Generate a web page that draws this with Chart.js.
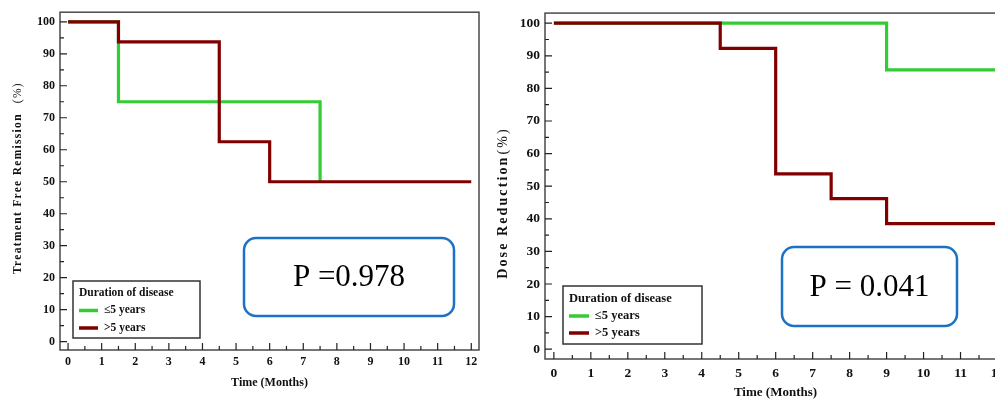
<!DOCTYPE html>
<html lang="en">
<head>
    <meta charset="UTF-8">
    <title>Treatment Free Remission and Dose Reduction by Duration of disease</title>
    <script src="https://cdn.jsdelivr.net/npm/chart.js"></script>
    <style>
        body {
            margin: 0;
            background: #fff;
            width: 995px;
            height: 400px;
            overflow: hidden;
            position: relative;
        }
        #leftChart { position: absolute; left: 0; top: 0; }
        #rightChart { position: absolute; left: 490px; top: 0; }
    </style>
</head>
<body>
    <canvas id="leftChart" width="490" height="400"></canvas>
    <canvas id="rightChart" width="530" height="400"></canvas>

    <script>
        const seriesNames = ['≤5 years', '>5 years'];
        const legendTitle = 'Duration of disease';
        const monthTicks = [0, 1, 2, 3, 4, 5, 6, 7, 8, 9, 10, 11, 12];
        const percentTicks = [0, 10, 20, 30, 40, 50, 60, 70, 80, 90, 100];

        // Treatment free remission (left)
        const remissionShortTime = [0, 1.5, 7.5];
        const remissionShortValue = [100, 75, 50];
        const remissionLongTime = [0, 1.5, 4.5, 6, 12];
        const remissionLongValue = [100, 93.75, 62.5, 50, 50];

        // Dose reduction (right)
        const doseShortTime = [0, 9, 12];
        const doseShortValue = [100, 85.7, 85.7];
        const doseLongTime = [0, 4.5, 6, 7.5, 9, 12];
        const doseLongValue = [100, 92.3, 53.8, 46.2, 38.5, 38.5];

        const GREEN = '#33cc33';
        const MAROON = '#800000';
        const SERIF = '"Liberation Serif", "Times New Roman", serif';

        function toPoints(xs, ys) {
            return xs.map((x, i) => ({ x: x, y: ys[i] }));
        }

        // frame, inward ticks, y title, boxed legend and p-value box
        const decorPlugin = {
            id: 'decor',
            afterDraw(chart, args, o) {
                const ctx = chart.ctx;
                const a = chart.chartArea;
                const xs = chart.scales.x, ys = chart.scales.y;
                ctx.save();

                ctx.strokeStyle = '#4a4a4a';
                ctx.lineWidth = 1.5;
                ctx.strokeRect(a.left, a.top, a.right - a.left, a.bottom - a.top);

                ctx.strokeStyle = '#222';
                ctx.lineWidth = 1.2;
                ctx.beginPath();
                monthTicks.forEach((v, i) => {
                    const px = xs.getPixelForValue(v);
                    ctx.moveTo(px, a.bottom); ctx.lineTo(px, a.bottom - 7);
                    if (i < monthTicks.length - 1) {
                        const mx = xs.getPixelForValue((v + monthTicks[i + 1]) / 2);
                        ctx.moveTo(mx, a.bottom); ctx.lineTo(mx, a.bottom - 4);
                    }
                });
                percentTicks.forEach((v, i) => {
                    const py = ys.getPixelForValue(v);
                    ctx.moveTo(a.left, py); ctx.lineTo(a.left + 7, py);
                    if (i < percentTicks.length - 1) {
                        const my = ys.getPixelForValue((v + percentTicks[i + 1]) / 2);
                        ctx.moveTo(a.left, my); ctx.lineTo(a.left + 4, my);
                    }
                });
                ctx.stroke();

                // rotated y title, bold part + plain "(%)", letter spaced
                const t = o.yTitle;
                ctx.save();
                ctx.translate(t.x, t.y);
                ctx.rotate(-Math.PI / 2);
                ctx.fillStyle = '#111';
                ctx.textBaseline = 'middle';
                ctx.letterSpacing = t.spacing + 'px';
                const boldFont = 'bold ' + t.size + 'px ' + SERIF;
                const plainFont = t.size + 'px ' + SERIF;
                ctx.font = boldFont;
                const w1 = ctx.measureText(t.text).width;
                ctx.font = plainFont;
                const w2 = ctx.measureText(t.unit).width;
                const total = w1 + t.gap + w2;
                ctx.font = boldFont;
                ctx.textAlign = 'left';
                ctx.fillText(t.text, -total / 2, 0);
                ctx.font = plainFont;
                ctx.fillText(t.unit, -total / 2 + w1 + t.gap, 0);
                ctx.restore();

                // legend box
                const L = o.legend;
                ctx.fillStyle = '#fff';
                ctx.fillRect(L.x, L.y, L.w, L.h);
                ctx.strokeStyle = '#333';
                ctx.lineWidth = 1.5;
                ctx.strokeRect(L.x, L.y, L.w, L.h);
                ctx.fillStyle = '#111';
                ctx.textAlign = 'left';
                ctx.textBaseline = 'middle';
                ctx.font = 'bold ' + L.size + 'px ' + SERIF;
                ctx.fillText(legendTitle, L.x + 6, L.y + L.rowTop);
                chart.data.datasets.forEach((ds, i) => {
                    const ry = L.y + L.rowTop + L.rowGap * (i + 1);
                    ctx.strokeStyle = ds.borderColor;
                    ctx.lineWidth = 3.5;
                    ctx.beginPath();
                    ctx.moveTo(L.x + 6, ry); ctx.lineTo(L.x + 6 + L.swatch, ry);
                    ctx.stroke();
                    ctx.fillStyle = '#111';
                    ctx.font = 'bold ' + L.size + 'px ' + SERIF;
                    ctx.fillText(ds.label, L.x + 12 + L.swatch, ry);
                });

                // p-value box
                const P = o.pBox;
                ctx.strokeStyle = '#1b72c4';
                ctx.lineWidth = 2.5;
                ctx.beginPath();
                ctx.roundRect(P.x, P.y, P.w, P.h, 12);
                ctx.stroke();
                ctx.fillStyle = '#000';
                ctx.textAlign = 'center';
                ctx.textBaseline = 'middle';
                ctx.font = '31px ' + SERIF;
                ctx.fillText(P.text, P.x + P.w / 2, P.y + P.h / 2 + 1);

                ctx.restore();
            }
        };

        function makeChart(id, cfg) {
            const ctx = document.getElementById(id).getContext('2d');
            return new Chart(ctx, {
                type: 'line',
                data: {
                    datasets: [{
                        label: seriesNames[0],
                        data: cfg.shortData,
                        borderColor: GREEN,
                        borderWidth: 3.2,
                        stepped: 'before',
                        pointRadius: 0,
                        fill: false,
                        order: 1
                    }, {
                        label: seriesNames[1],
                        data: cfg.longData,
                        borderColor: MAROON,
                        borderWidth: 3.2,
                        stepped: 'before',
                        pointRadius: 0,
                        fill: false,
                        order: 0
                    }]
                },
                options: {
                    responsive: false,
                    animation: false,
                    layout: { padding: { top: 11, right: cfg.padRight, left: 0, bottom: 0 } },
                    plugins: {
                        legend: { display: false },
                        tooltip: { enabled: false },
                        decor: cfg.decor
                    },
                    scales: {
                        x: {
                            type: 'linear',
                            min: cfg.xMin,
                            max: cfg.xMax,
                            grid: { display: false, drawTicks: false },
                            border: { display: false },
                            afterBuildTicks: (s) => { s.ticks = monthTicks.map(v => ({ value: v })); },
                            afterFit: (s) => { s.height = cfg.xHeight; },
                            ticks: {
                                autoSkip: false,
                                maxRotation: 0,
                                padding: cfg.xPad,
                                color: '#111',
                                font: { family: SERIF, size: cfg.tickSize, weight: 'bold' }
                            },
                            title: {
                                display: true,
                                text: 'Time (Months)',
                                color: '#111',
                                padding: { top: 0, bottom: cfg.xTitlePad },
                                font: { family: SERIF, size: cfg.xTitleSize, weight: 'bold' }
                            }
                        },
                        y: {
                            min: cfg.yMin,
                            max: cfg.yMax,
                            grid: { display: false, drawTicks: false },
                            border: { display: false },
                            afterBuildTicks: (s) => { s.ticks = percentTicks.map(v => ({ value: v })); },
                            afterFit: (s) => { s.width = cfg.yWidth; },
                            ticks: {
                                padding: 5,
                                color: '#111',
                                font: { family: SERIF, size: cfg.tickSize, weight: 'bold' }
                            }
                        }
                    }
                },
                plugins: [decorPlugin]
            });
        }

        makeChart('leftChart', {
            shortData: toPoints(remissionShortTime, remissionShortValue),
            longData: toPoints(remissionLongTime, remissionLongValue),
            xMin: -0.24, xMax: 12.23, yMin: -2.6, yMax: 103,
            padRight: 11, yWidth: 60, xHeight: 50,
            tickSize: 12, xPad: 5, xTitleSize: 12, xTitlePad: 10,
            decor: {
                yTitle: { text: 'Treatment Free Remission', unit: '(%)', x: 18, y: 178, size: 11.5, gap: 10, spacing: 1.3 },
                legend: { x: 73, y: 281, w: 127, h: 57, size: 11.5, rowTop: 12, rowGap: 17.5, swatch: 19 },
                pBox: { x: 244, y: 238, w: 210, h: 78, text: 'P =0.978' }
            }
        });

        makeChart('rightChart', {
            shortData: toPoints(doseShortTime, doseShortValue),
            longData: toPoints(doseLongTime, doseLongValue),
            xMin: -0.24, xMax: 12.23, yMin: -3, yMax: 103.1,
            padRight: 14, yWidth: 55, xHeight: 41,
            tickSize: 13.5, xPad: 6, xTitleSize: 13, xTitlePad: 0,
            decor: {
                yTitle: { text: 'Dose Reduction', unit: '(%)', x: 13, y: 203, size: 14, gap: 1, spacing: 2.1 },
                legend: { x: 73, y: 286, w: 139, h: 58, size: 12.5, rowTop: 13, rowGap: 17, swatch: 20 },
                pBox: { x: 292, y: 247, w: 175, h: 79, text: 'P = 0.041' }
            }
        });
    </script>
</body>
</html>
